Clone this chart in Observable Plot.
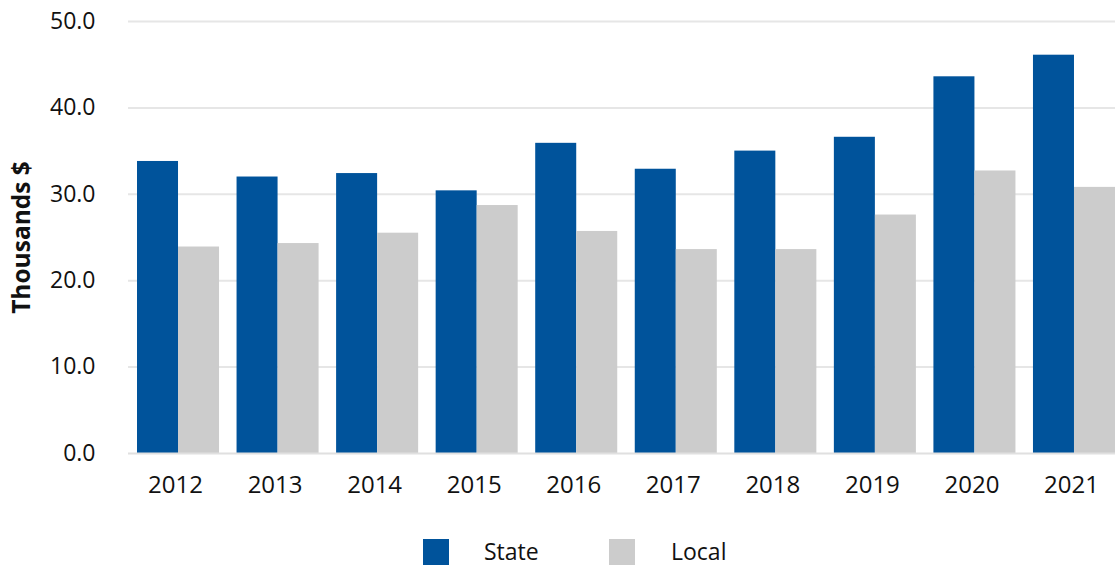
<!DOCTYPE html>
<html>
<head>
<meta charset="utf-8">
<script src="https://cdn.jsdelivr.net/npm/d3@7"></script>
<script src="https://cdn.jsdelivr.net/npm/@observablehq/plot@0.6"></script>
<style>
  body { margin: 0; background: #fff; font-family: "Open Sans", sans-serif; }
  #chart { position: relative; width: 1115px; height: 567px; }
  .legend { position: relative; height: 42px; font-size: 23px; color: #111; }
  .legend .sw { position: absolute; top: 14px; width: 26px; height: 26px; }
  .legend .lab { position: absolute; top: 10px; line-height: 32px; }
</style>
</head>
<body>
<div id="chart"></div>
<script>
const years = ["2012","2013","2014","2015","2016","2017","2018","2019","2020","2021"];
const stateValues = [33.8, 32.0, 32.4, 30.4, 35.9, 32.9, 35.0, 36.6, 43.6, 46.1];
const localValues = [23.9, 24.3, 25.5, 28.7, 25.7, 23.6, 23.6, 27.6, 32.7, 30.8];
const seriesNames = ["State", "Local"];
const seriesColors = ["#00539b", "#cccccc"];
const yTicks = [0, 10, 20, 30, 40, 50];
const yLabel = "Thousands $";

const W = 1115, H = 525;
const xRange = [137, 1115];
const padInner = 0.176;
const step = (xRange[1] - xRange[0]) / (years.length - padInner);
const bw = step * (1 - padInner);

const stateData = years.map((y, i) => ({year: y, value: stateValues[i]}));
const localData = years.map((y, i) => ({year: y, value: localValues[i]}));

const plot = Plot.plot({
  width: W,
  height: H,
  marginLeft: 128,
  marginRight: 0,
  marginTop: 21,
  marginBottom: 72,
  style: {fontFamily: "Open Sans, sans-serif", fontSize: "23px", color: "#111", background: "#fff"},
  x: {domain: years, range: xRange, paddingInner: padInner, paddingOuter: 0, round: false, label: null},
  y: {domain: [0, 50], label: null},
  marks: [
    Plot.ruleY(yTicks.filter(d => d > 0), {stroke: "#e6e6e6", strokeWidth: 2}),
    Plot.barY(stateData, {x: "year", y: "value", fill: seriesColors[0], insetRight: bw / 2, insetLeft: 0}),
    Plot.barY(localData, {x: "year", y: "value", fill: seriesColors[1], insetLeft: bw / 2, insetRight: 0}),
    Plot.ruleY([0], {stroke: "#e0e0e0", strokeWidth: 2}),
    Plot.axisY({ticks: yTicks, tickFormat: d => d.toFixed(1), tickSize: 0, tickPadding: 33, label: null, fontSize: 23}),
    Plot.axisX({tickSize: 0, tickPadding: 22, dx: -3, label: null, fontSize: 24}),
    Plot.text([yLabel], {frameAnchor: "left", dx: -106, rotate: -90, textAnchor: "middle", fontWeight: "bold", fontSize: 24.5, fill: "#111"})
  ]
});

const chart = document.getElementById("chart");
chart.appendChild(plot);

const legend = document.createElement("div");
legend.className = "legend";
const swX = [423, 609];
const labX = [484, 671];
seriesNames.forEach((name, i) => {
  const sw = document.createElement("div");
  sw.className = "sw";
  sw.style.left = swX[i] + "px";
  sw.style.background = seriesColors[i];
  legend.appendChild(sw);
  const lab = document.createElement("div");
  lab.className = "lab";
  lab.style.left = labX[i] + "px";
  lab.textContent = name;
  legend.appendChild(lab);
});
chart.appendChild(legend);
</script>
</body>
</html>
